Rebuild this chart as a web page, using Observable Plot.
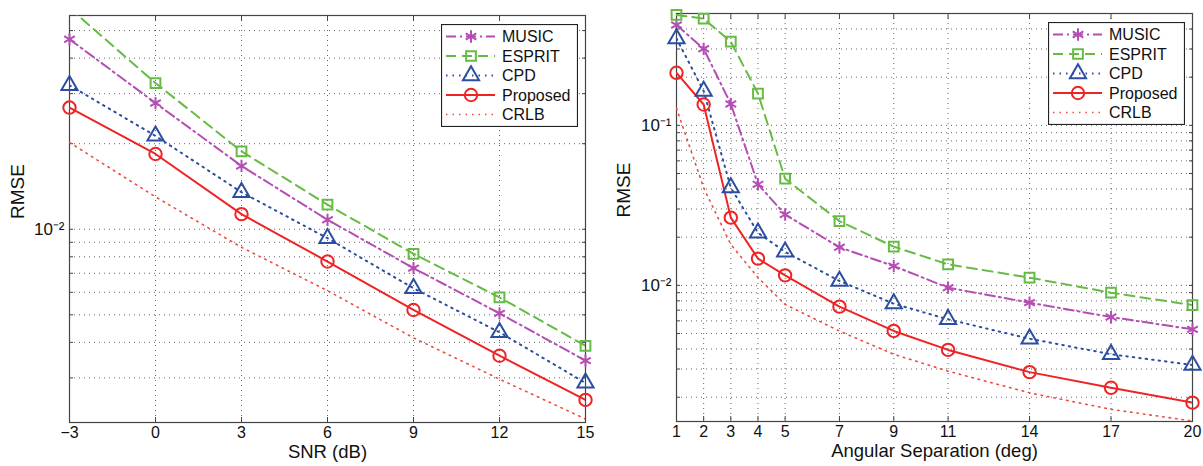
<!DOCTYPE html>
<html><head><meta charset="utf-8">
<script src="https://cdn.jsdelivr.net/npm/d3@7"></script>
<script src="https://cdn.jsdelivr.net/npm/@observablehq/plot@0.6"></script>
<style>
body{margin:0;background:#fff;}
#wrap{position:relative;width:1203px;height:466px;display:flex;font-family:"Liberation Sans",Arial,sans-serif;}
.panel{position:relative;height:466px;}
.legend{position:absolute;}
</style></head><body>
<div id="wrap"><div class="panel" id="p1" style="width:600px"></div><div class="panel" id="p2" style="width:603px"></div></div>
<script>
// ---------- data ----------
const seriesNames = ["MUSIC", "ESPRIT", "CPD", "Proposed", "CRLB"];

// Left panel: RMSE vs SNR
const snrDb = [-3, 0, 3, 6, 9, 12, 15];
const musicSnr    = [0.0466, 0.0278, 0.0167, 0.0108, 0.0073, 0.00506, 0.00345];
const espritSnr   = [0.060, 0.0327, 0.0188, 0.0122, 0.0082, 0.00576, 0.00389];
const cpdSnr      = [0.0321, 0.0213, 0.0135, 0.0093, 0.0062, 0.00434, 0.00288];
const proposedSnr = [0.0268, 0.0184, 0.0113, 0.0077, 0.0052, 0.00359, 0.00251];
const crlbSnr     = [0.0202, 0.0130, 0.00864, 0.00608, 0.00415, 0.00297, 0.00215];
const snrYDomain = [2.09e-3, 5.65e-2];
const snrYGrid = [3e-3, 4e-3, 5e-3, 6e-3, 7e-3, 8e-3, 9e-3, 1e-2, 2e-2, 3e-2, 4e-2, 5e-2];
const snrYLabels = [1e-2];

// Right panel: RMSE vs angular separation
const sepDeg = [1, 2, 3, 4, 5, 7, 9, 11, 14, 17, 20];
const musicSep    = [0.424, 0.301, 0.136, 0.0428, 0.0277, 0.0173, 0.0132, 0.00967, 0.0078, 0.00634, 0.00531];
const espritSep   = [0.49, 0.464, 0.333, 0.158, 0.0464, 0.0252, 0.01745, 0.01353, 0.01117, 0.0090, 0.00753];
const cpdSep      = [0.349, 0.164, 0.0408, 0.0213, 0.0162, 0.01065, 0.00768, 0.00613, 0.00464, 0.00371, 0.00318];
const proposedSep = [0.213, 0.135, 0.0265, 0.0147, 0.01155, 0.00736, 0.00519, 0.00395, 0.00287, 0.00229, 0.00185];
const crlbSep     = [0.128, 0.0407, 0.018, 0.0112, 0.0076, 0.00518, 0.00371, 0.00291, 0.00213, 0.00168, 0.00142];
const sepYDomain = [1.41e-3, 0.5];
const sepYGrid = [2e-3,3e-3,4e-3,5e-3,6e-3,7e-3,8e-3,9e-3,1e-2,2e-2,3e-2,4e-2,5e-2,6e-2,7e-2,8e-2,9e-2,1e-1,2e-1,3e-1,4e-1];
const sepYLabels = [1e-2, 1e-1];

// ---------- styles ----------
const styles = {
  MUSIC:    {color: "#b44db4", dash: "10,4,2,4", width: 2, symbol: "asterisk", r: 5.8},
  ESPRIT:   {color: "#66bb44", dash: "10,6", width: 2, symbol: "square", r: 5.5},
  CPD:      {color: "#2b4ea2", dash: "1.5,5", width: 2, symbol: "triangle", r: 6},
  Proposed: {color: "#ee2424", dash: null, width: 2, symbol: "circle", r: 6.2},
  CRLB:     {color: "#f04a3a", dash: "1.5,5", width: 1.6, symbol: null}
};
const FONT = '"Liberation Sans", Arial, sans-serif';
const sup = {"-": "⁻", "0": "⁰", "1": "¹", "2": "²", "3": "³"};
const powFmt = d => "10" + String(Math.round(Math.log10(d))).split("").map(c => sup[c]).join("");

function panel(el, cfg) {
  const rows = seriesNames.flatMap(name => cfg.xs.map((x, i) => ({series: name, x, y: cfg.ys[name][i]})));
  const gridStyle = {stroke: "#000", strokeOpacity: 0.6, strokeDasharray: "1,4"};
  const marks = [
    Plot.gridX(cfg.xTicks, gridStyle),
    Plot.gridY(cfg.yGrid, gridStyle),
    Plot.frame({stroke: "#444", strokeWidth: 1.2}),
    Plot.axisX(cfg.xTicks, {anchor: "bottom", tickSize: 0, tickPadding: 4, fontSize: 16, label: null}),
    Plot.axisX(cfg.xTicks, {anchor: "bottom", tickSize: -5, tickFormat: () => "", label: null, stroke: "#444"}),
    Plot.axisX(cfg.xTicks, {anchor: "top", tickSize: -5, tickFormat: () => "", label: null, stroke: "#444"}),
    Plot.axisY(cfg.yLabels, {anchor: "left", tickSize: 0, tickPadding: 5, fontSize: 17, tickFormat: powFmt, label: null}),
    Plot.axisY(cfg.yGrid, {anchor: "left", tickSize: -4, tickFormat: () => "", label: null, stroke: "#444"}),
    Plot.axisY(cfg.yGrid, {anchor: "right", tickSize: -4, tickFormat: () => "", label: null, stroke: "#444"}),
    Plot.text([cfg.xLabel], {text: d => d, frameAnchor: "bottom", dy: 35, fontSize: 18.5}),
    Plot.text(["RMSE"], {text: d => d, frameAnchor: "left", dx: cfg.yLabelDx, rotate: -90, fontSize: 19})
  ];
  for (const name of seriesNames) {
    const st = styles[name];
    const data = rows.filter(d => d.series === name);
    marks.push(Plot.line(data, {x: "x", y: "y", stroke: st.color, strokeWidth: st.width, strokeDasharray: st.dash, clip: true}));
  }
  for (const name of seriesNames) {
    const st = styles[name];
    if (!st.symbol) continue;
    const data = rows.filter(d => d.series === name && d.y <= cfg.yDomain[1] && d.y >= cfg.yDomain[0]);
    marks.push(Plot.dot(data, {x: "x", y: "y", symbol: st.symbol, r: st.r, stroke: st.color, strokeWidth: 2, fill: "none"}));
  }
  const chart = Plot.plot({
    width: cfg.width, height: 466,
    marginLeft: cfg.ml, marginRight: cfg.mr, marginTop: cfg.mt, marginBottom: cfg.mb,
    x: {domain: cfg.xDomain},
    y: {type: "log", domain: cfg.yDomain},
    style: {fontFamily: FONT, fontSize: "16px", color: "#111", background: "white", overflow: "visible"},
    marks
  });
  el.appendChild(chart);

  // legend
  const lw = 137, lh = 103;
  const left = cfg.width - cfg.mr - 7 - lw;
  const svg = d3.select(el).append("svg").attr("class", "legend")
    .style("left", left + "px").style("top", (cfg.mt + 9) + "px")
    .attr("width", lw).attr("height", lh);
  svg.append("rect").attr("x", 0.5).attr("y", 0.5).attr("width", lw - 1).attr("height", lh - 1)
    .attr("fill", "white").attr("stroke", "#222").attr("stroke-width", 1.2);
  seriesNames.forEach((name, i) => {
    const st = styles[name];
    const y = 12.5 + i * 19.5;
    svg.append("line").attr("x1", 5).attr("x2", 54).attr("y1", y).attr("y2", y)
      .attr("stroke", st.color).attr("stroke-width", st.width).attr("stroke-dasharray", st.dash);
    if (st.symbol) {
      const sym = {asterisk: d3.symbolAsterisk, square: d3.symbolSquare, triangle: d3.symbolTriangle, circle: d3.symbolCircle}[st.symbol];
      svg.append("path").attr("d", d3.symbol(sym, Math.PI * st.r * st.r)())
        .attr("transform", `translate(30,${y})`).attr("fill", "none").attr("stroke", st.color).attr("stroke-width", 2);
    }
    svg.append("text").attr("x", 61).attr("y", y).attr("dy", "0.36em")
      .attr("font-family", FONT).attr("font-size", 16).attr("fill", "#111").text(name);
  });
}

panel(document.getElementById("p1"), {
  width: 600, ml: 69, mr: 15, mt: 15, mb: 44,
  xs: snrDb, ys: {MUSIC: musicSnr, ESPRIT: espritSnr, CPD: cpdSnr, Proposed: proposedSnr, CRLB: crlbSnr},
  xDomain: [-3, 15], xTicks: snrDb, yDomain: snrYDomain, yGrid: snrYGrid, yLabels: snrYLabels,
  xLabel: "SNR (dB)", yLabelDx: -52
});
panel(document.getElementById("p2"), {
  width: 603, ml: 76, mr: 11, mt: 13, mb: 45,
  xs: sepDeg, ys: {MUSIC: musicSep, ESPRIT: espritSep, CPD: cpdSep, Proposed: proposedSep, CRLB: crlbSep},
  xDomain: [1, 20], xTicks: sepDeg, yDomain: sepYDomain, yGrid: sepYGrid, yLabels: sepYLabels,
  xLabel: "Angular Separation (deg)", yLabelDx: -53
});
</script></body></html>
